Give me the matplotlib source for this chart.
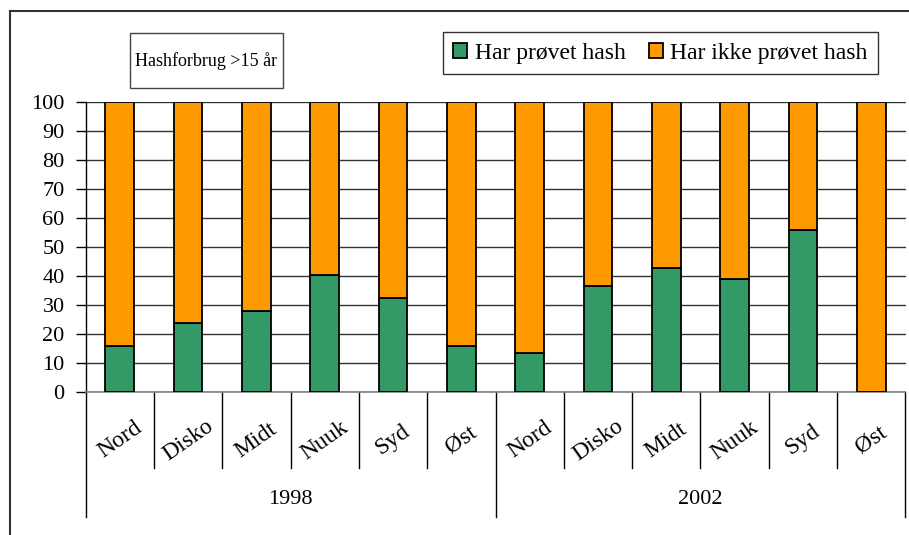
import matplotlib
matplotlib.use("Agg")
import matplotlib.pyplot as plt
from matplotlib.lines import Line2D
from matplotlib.patches import Rectangle

plt.rcParams['font.family'] = ['Liberation Serif', 'DejaVu Serif']

# data
years = ['1998', '2002']
regions = ['Nord', 'Disko', 'Midt', 'Nuuk', 'Syd', 'Øst']
tried_1998 = [16, 23.7, 28, 40.3, 32.5, 16]
tried_2002 = [13.3, 36.4, 42.9, 39, 55.7, 0]
label_tried = 'Har prøvet hash'
label_not = 'Har ikke prøvet hash'
title = 'Hashforbrug >15 år'

tried = tried_1998 + tried_2002
not_tried = [100 - v for v in tried]
labels = regions + regions
x = list(range(len(tried)))

W, H = 909, 535
fig = plt.figure(figsize=(W / 100, H / 100), dpi=100)

def fx(px):
    return px / W

def fy(py):
    return 1 - py / H

# axes placed in pixel coords
ax_l, ax_r, ax_t, ax_b = 85.5, 905.5, 102, 392
ax = fig.add_axes([fx(ax_l), fy(ax_b), fx(ax_r - ax_l), (ax_b - ax_t) / H])

green = '#339966'
orange = '#FF9900'
b1 = ax.bar(x, tried, width=0.42, color=green, edgecolor='black', linewidth=1.3, zorder=3,
            label=label_tried)
b2 = ax.bar(x, not_tried, bottom=tried, width=0.42, color=orange, edgecolor='black',
            linewidth=1.3, zorder=3, label=label_not)

ax.set_xlim(-0.5, len(x) - 0.5)
ax.set_ylim(0, 100)
ax.set_yticks(range(0, 101, 10))
ax.yaxis.grid(True, color='#333333', linewidth=1)
ax.set_axisbelow(True)
ax.tick_params(axis='y', direction='out', length=7, width=1, labelsize=16, pad=8)
ax.set_xticks([])
for s in ['top', 'right']:
    ax.spines[s].set_visible(False)
ax.spines['bottom'].set_color('#808080')
ax.spines['bottom'].set_linewidth(1.2)
ax.spines['left'].set_linewidth(1)

h = ax_b - ax_t
short_y = -(468 - ax_b) / h
long_y = -(517 - ax_b) / h
trans = ax.get_xaxis_transform()
# category / group separators under the axis
for k in range(len(x) + 1):
    xpos = k - 0.5
    if k in (0, 6, 12):
        y0 = long_y
    else:
        y0 = short_y
    ax.add_line(Line2D([xpos, xpos], [0, y0], transform=trans, color='black',
                       linewidth=1, clip_on=False))

lab_y = -(440 - ax_b) / h
for xi, lab in zip(x, labels):
    ax.text(xi, lab_y, lab, transform=trans, rotation=35, ha='center', va='center',
            rotation_mode='anchor', fontsize=17)

year_y = -(500 - ax_b) / h
for i, yr in enumerate(years):
    ax.text(i * 6 + 2.5, year_y, yr, transform=trans, ha='center', va='center', fontsize=16)

# figure border (top and left)
fig.add_artist(Line2D([fx(10), 1], [fy(11), fy(11)], color='#333333', linewidth=1.5))
fig.add_artist(Line2D([fx(10), fx(10)], [fy(11), 0], color='#333333', linewidth=1.5))

# title box
fig.add_artist(Rectangle((fx(130), fy(88)), fx(283 - 130), (88 - 33) / H,
                         transform=fig.transFigure, facecolor='white', edgecolor='#444444',
                         linewidth=1))
fig.text(fx(206.5), fy(61), title, ha='center', va='center', fontsize=13)

leg = fig.legend(handles=[b1, b2], loc='center', bbox_to_anchor=(fx(660.5), fy(53)),
                 ncol=2, fontsize=17, frameon=True, fancybox=False, edgecolor='black',
                 handlelength=0.6, handleheight=0.6, handletextpad=0.3, columnspacing=1.0,
                 borderpad=0.45, borderaxespad=0)
leg.get_frame().set_linewidth(1)

fig.savefig('out.png', dpi=100)
